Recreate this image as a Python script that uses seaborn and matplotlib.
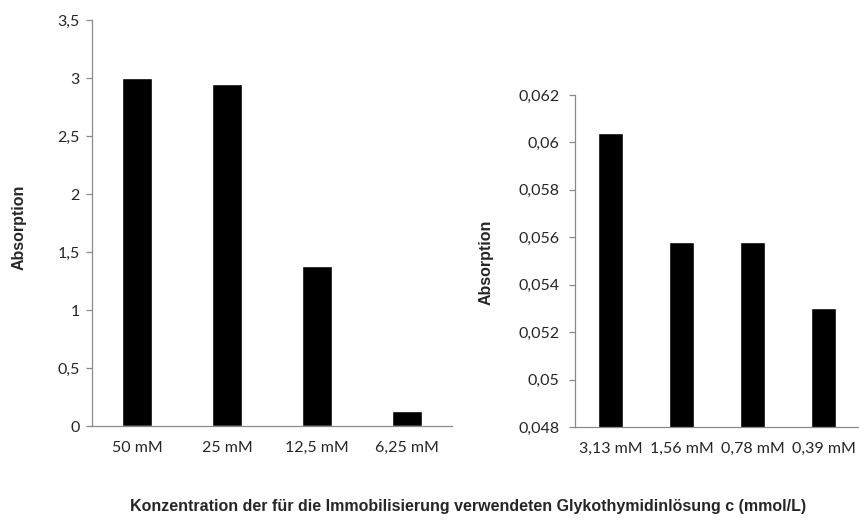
import matplotlib
matplotlib.use("Agg")
import matplotlib.pyplot as plt
import seaborn as sns
import pandas as pd
from matplotlib.ticker import FuncFormatter, MultipleLocator

# Data
cats_high = ["50 mM", "25 mM", "12,5 mM", "6,25 mM"]
vals_high = [3.0, 2.95, 1.38, 0.13]
cats_low = ["3,13 mM", "1,56 mM", "0,78 mM", "0,39 mM"]
vals_low = [0.0604, 0.0558, 0.0558, 0.0530]
y_label = "Absorption"
x_title = "Konzentration der für die Immobilisierung verwendeten Glykothymidinlösung c (mmol/L)"

sns.set_theme(style="white")
plt.rcParams['font.family'] = ['Lato', 'DejaVu Sans']

W, H = 859, 522
fig = plt.figure(figsize=(W/100, H/100), dpi=100)
ax1 = fig.add_axes([92/W, 96/H, 360/W, 406/H])
ax2 = fig.add_axes([575/W, 95/H, 284/W, 332/H])

df1 = pd.DataFrame({"c": cats_high, "v": vals_high})
df2 = pd.DataFrame({"c": cats_low, "v": vals_low})

sns.barplot(data=df1, x="c", y="v", color="black", width=0.33, ax=ax1, saturation=1)
sns.barplot(data=df2, x="c", y="v", color="black", width=0.34, ax=ax2, saturation=1)

comma = FuncFormatter(lambda v, p: f"{v:g}".replace('.', ','))
gray = "#8a8a8a"
for ax, ypad in ((ax1, 5), (ax2, 7)):
    for s in ("top", "right"):
        ax.spines[s].set_visible(False)
    for s in ("left", "bottom"):
        ax.spines[s].set_color(gray)
        ax.spines[s].set_linewidth(0.9)
    ax.set_xlabel("")
    ax.set_ylabel("")
    ax.yaxis.set_major_formatter(comma)
    ax.tick_params(axis="y", left=True, length=4, width=0.9, color=gray, pad=ypad,
                   labelsize=11.5, labelcolor="#262626")
    ax.tick_params(axis="x", bottom=False, length=0, pad=11, labelsize=11.5, labelcolor="#262626")
    ax.set_xlim(-0.5, 3.5)

ax1.set_ylim(0, 3.5)
ax1.yaxis.set_major_locator(MultipleLocator(0.5))
ax2.set_ylim(0.048, 0.062)
ax2.yaxis.set_major_locator(MultipleLocator(0.002))

fig.text(19/W, 1 - 227/H, y_label, rotation=90, ha="center", va="center",
         fontsize=11.5, fontweight="bold", family=["Liberation Sans"])
fig.text(486/W, 1 - 262/H, y_label, rotation=90, ha="center", va="center",
         fontsize=11.5, fontweight="bold", family=["Liberation Sans"])

fig.text(468/W, 1 - 507/H, x_title, ha="center", va="center", fontsize=11.5,
         fontweight="bold", family=["Liberation Sans"])

fig.savefig("out.png", dpi=100)
